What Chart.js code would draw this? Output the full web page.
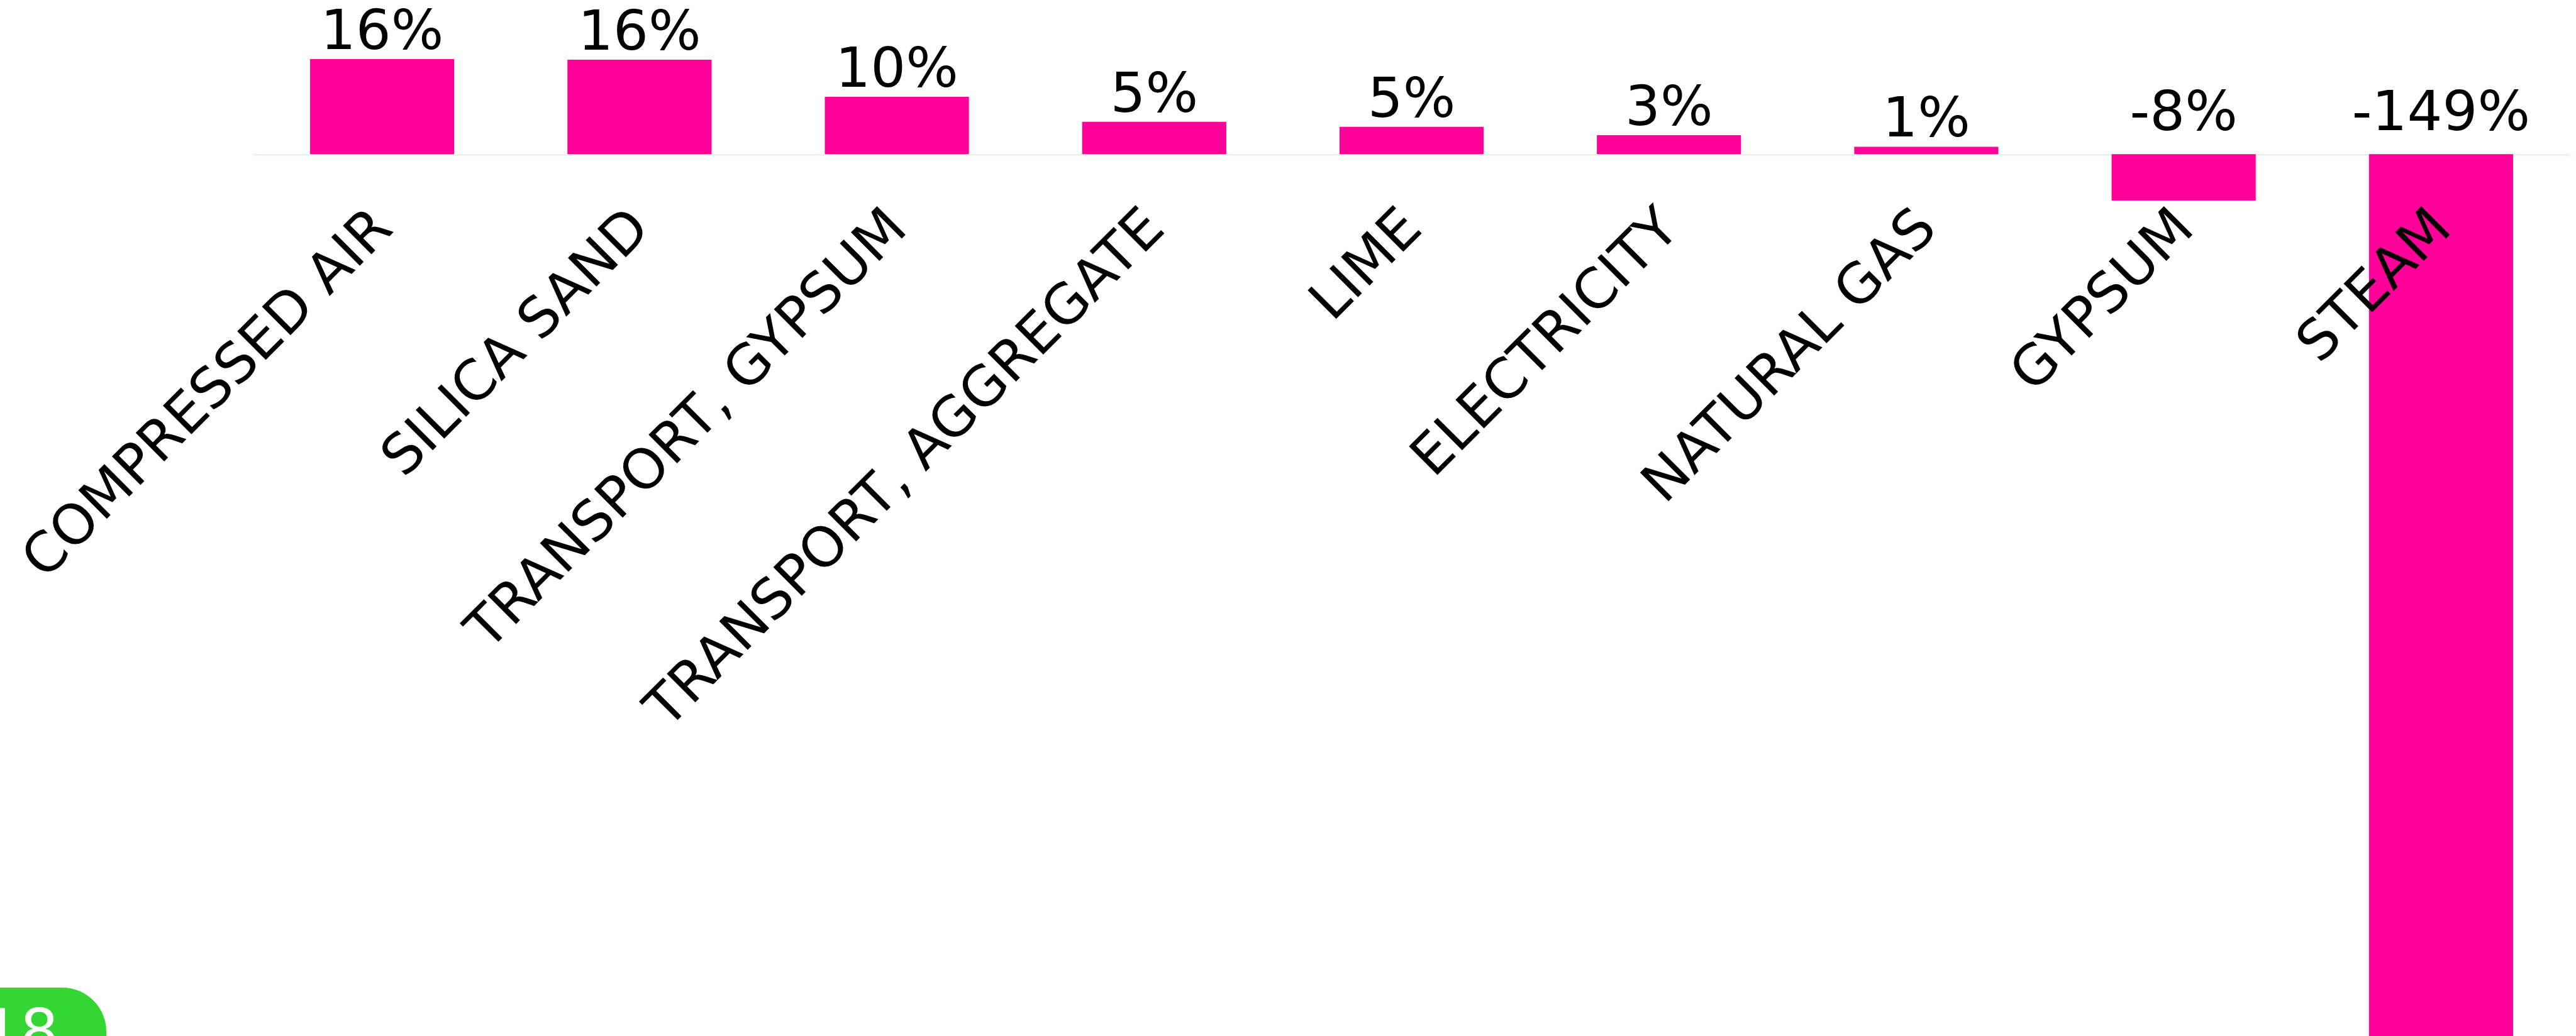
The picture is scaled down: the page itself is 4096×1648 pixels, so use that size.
<!DOCTYPE html>
<html>
<head>
<meta charset="utf-8">
<script src="https://cdn.jsdelivr.net/npm/chart.js@4/dist/chart.umd.min.js"></script>
<style>
  html,body{margin:0;padding:0;background:#fff;}
  #wrap{position:relative;width:4096px;height:1648px;}
</style>
</head>
<body>
<div id="wrap"><canvas id="impactChart"></canvas></div>
<script>
const categories=["COMPRESSED AIR","SILICA SAND","TRANSPORT, GYPSUM","TRANSPORT, AGGREGATE","LIME","ELECTRICITY","NATURAL GAS","GYPSUM","STEAM"];
const shares=[16.0,15.9,9.65,5.45,4.6,3.2,1.25,-7.8,-149];
const yMin=-148.4;
const yMax=25.95;
const badgeText="18";

const FONT="'DejaVu Sans', Verdana, sans-serif";

/* zero line, value labels, rotated category labels, corner badge */
const decor={
  id:"decor",
  beforeDatasetsDraw(chart){
    const {ctx,chartArea,scales:{y}}=chart;
    const y0=y.getPixelForValue(0);
    ctx.save();
    ctx.strokeStyle="#e3f6df";
    ctx.lineWidth=2.5;
    ctx.beginPath();
    ctx.moveTo(chartArea.left,y0+1);
    ctx.lineTo(chartArea.right,y0+1);
    ctx.stroke();
    ctx.restore();
  },
  afterDatasetsDraw(chart){
    const {ctx,scales:{x,y}}=chart;
    const y0=y.getPixelForValue(0);
    ctx.save();
    ctx.fillStyle="#000";

    // value labels
    ctx.font="88px "+FONT;
    ctx.textAlign="center";
    ctx.textBaseline="alphabetic";
    shares.forEach((v,i)=>{
      const cx=x.getPixelForValue(i);
      const top=v>=0 ? y.getPixelForValue(v) : y0;
      const gap=v>=0 ? 16 : 38;
      ctx.fillText(Math.round(v)+"%",cx,top-gap);
    });

    // category labels
    ctx.font="88px "+FONT;
    ctx.textAlign="right";
    categories.forEach((c,i)=>{
      const cx=x.getPixelForValue(i);
      ctx.save();
      ctx.translate(cx+20,y0+122);
      ctx.rotate(-Math.PI/4);
      ctx.fillText(c,0,0);
      ctx.restore();
    });

    // green badge, bottom left
    ctx.fillStyle="#33d633";
    ctx.beginPath();
    ctx.roundRect(-120,1571,289,200,70);
    ctx.fill();
    ctx.fillStyle="#fff";
    ctx.font="96px "+FONT;
    ctx.textAlign="left";
    ctx.fillText(badgeText,-29,1674);
    ctx.restore();
  }
};

new Chart(document.getElementById("impactChart"),{
  type:"bar",
  data:{
    labels:categories,
    datasets:[{
      data:shares,
      backgroundColor:"#ff0099",
      borderWidth:0,
      categoryPercentage:1,
      barPercentage:0.56
    }]
  },
  options:{
    responsive:true,
    maintainAspectRatio:false,
    animation:false,
    layout:{padding:{left:403,right:10,top:0,bottom:0}},
    plugins:{legend:{display:false},tooltip:{enabled:false}},
    scales:{
      x:{display:false},
      y:{display:false,min:yMin,max:yMax}
    }
  },
  plugins:[decor]
});
</script>
</body>
</html>
